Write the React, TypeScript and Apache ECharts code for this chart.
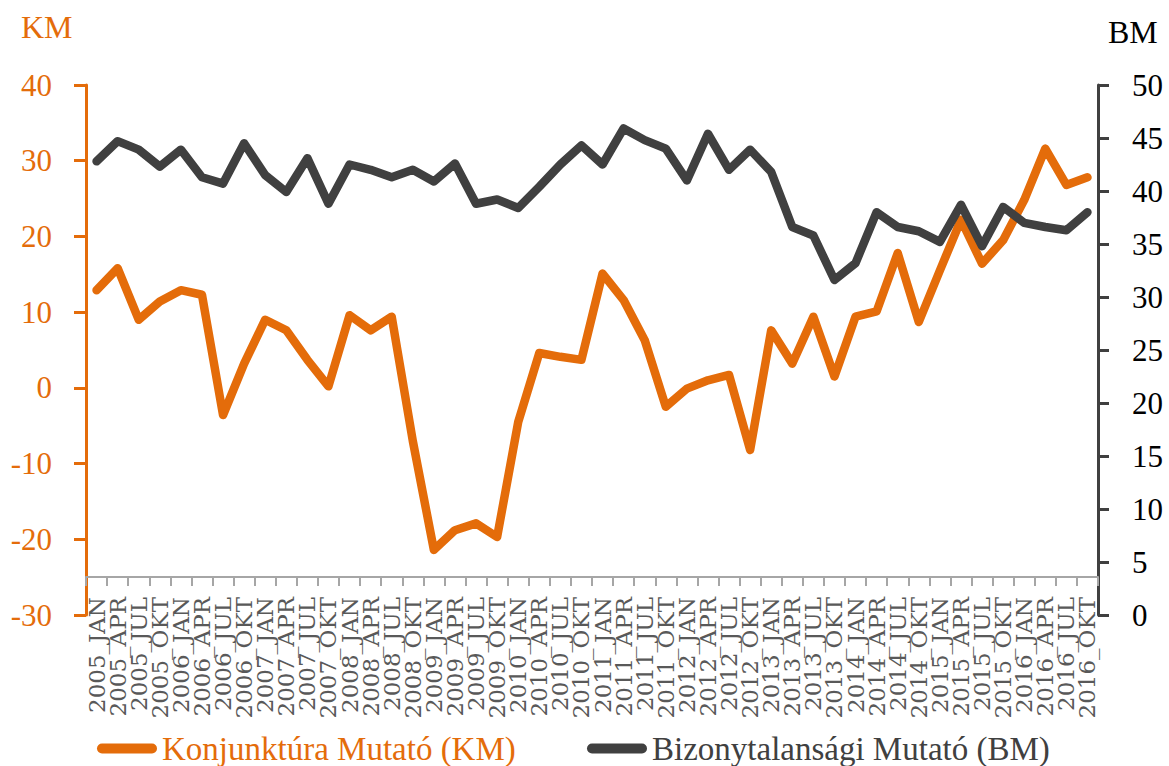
import React, { useEffect, useRef } from 'react';
import * as echarts from 'echarts';

const categories = [
  '2005_JAN', '2005_APR', '2005_JUL', '2005_OKT',
  '2006_JAN', '2006_APR', '2006_JUL', '2006_OKT',
  '2007_JAN', '2007_APR', '2007_JUL', '2007_OKT',
  '2008_JAN', '2008_APR', '2008_JUL', '2008_OKT',
  '2009_JAN', '2009_APR', '2009_JUL', '2009_OKT',
  '2010_JAN', '2010_APR', '2010_JUL', '2010_OKT',
  '2011_JAN', '2011_APR', '2011_JUL', '2011_OKT',
  '2012_JAN', '2012_APR', '2012_JUL', '2012_OKT',
  '2013_JAN', '2013_APR', '2013_JUL', '2013_OKT',
  '2014_JAN', '2014_APR', '2014_JUL', '2014_OKT',
  '2015_JAN', '2015_APR', '2015_JUL', '2015_OKT',
  '2016_JAN', '2016_APR', '2016_JUL', '2016_OKT',
];

// Konjunktúra Mutató (KM) – left axis
const kmValues = [
  12.9, 15.8, 9.0, 11.4, 12.9, 12.3, -3.6, 3.2, 9.0, 7.6, 3.7, 0.2,
  9.6, 7.6, 9.4, -7.0, -21.4, -18.8, -17.9, -19.7, -4.5, 4.6, 4.1, 3.7,
  15.1, 11.6, 6.3, -2.5, -0.1, 1.0, 1.7, -8.2, 7.6, 3.2, 9.4, 1.5,
  9.4, 10.1, 17.8, 8.7, 15.5, 22.2, 16.4, 19.5, 24.8, 31.6, 26.8, 27.8,
];

// Bizonytalansági Mutató (BM) – right axis
const bmValues = [
  42.8, 44.7, 43.9, 42.3, 43.9, 41.3, 40.7, 44.5, 41.5, 39.9, 43.1, 38.8,
  42.5, 42.0, 41.3, 42.0, 40.9, 42.6, 38.8, 39.2, 38.4, 40.4, 42.5, 44.3,
  42.5, 45.9, 44.8, 44.0, 41.0, 45.4, 42.0, 43.9, 41.8, 36.6, 35.8, 31.6,
  33.2, 38.0, 36.6, 36.2, 35.2, 38.7, 34.8, 38.5, 37.0, 36.6, 36.3, 38.0,
];

const leftTicks = { min: -30, max: 40, interval: 10 };
const rightTicks = { min: 0, max: 50, interval: 5 };

const KM_NAME = 'Konjunktúra Mutató (KM)';
const BM_NAME = 'Bizonytalansági Mutató (BM)';

const ORANGE = '#E46C0A';
const DARK = '#404040';
const SERIF = 'Liberation Serif';
const CAPSULE = 'path://M5,0 L55,0 A5,5 0 0 1 55,10 L5,10 A5,5 0 0 1 5,0 Z';

export default function App() {
  const ref = useRef<HTMLDivElement>(null);

  useEffect(() => {
    if (!ref.current) return;
    const chart = echarts.init(ref.current, null, { renderer: 'svg' });
    chart.setOption({
      animation: false,
      backgroundColor: '#ffffff',
      textStyle: { fontFamily: SERIF },
      grid: { left: 86, right: 71, top: 85, bottom: 151, containLabel: false },
      graphic: [
        {
          type: 'text',
          left: 21,
          top: 11,
          style: { text: 'KM', fill: ORANGE, fontSize: 32, fontFamily: SERIF },
        },
        {
          type: 'text',
          left: 1108,
          top: 16,
          style: { text: 'BM', fill: '#000000', fontSize: 32, fontFamily: SERIF },
        },
      ],
      legend: [
        {
          data: [{ name: KM_NAME, icon: CAPSULE }],
          left: 92,
          top: 727,
          itemWidth: 60,
          itemHeight: 10,
          textStyle: { color: ORANGE, fontSize: 33, fontFamily: SERIF, lineHeight: 33 },
        },
        {
          data: [{ name: BM_NAME, icon: CAPSULE }],
          left: 582,
          top: 727,
          itemWidth: 60,
          itemHeight: 10,
          textStyle: { color: DARK, fontSize: 33, fontFamily: SERIF, lineHeight: 33 },
        },
      ],
      xAxis: {
        type: 'category',
        data: categories,
        boundaryGap: true,
        offset: -38,
        axisLine: { show: true, onZero: false, lineStyle: { color: '#A6A6A6', width: 2 } },
        axisTick: { show: true, interval: 0, length: 9, lineStyle: { color: '#A6A6A6', width: 2 } },
        axisLabel: {
          interval: 0,
          rotate: 90,
          margin: 20,
          fontSize: 23,
          color: '#595959',
          fontFamily: 'DejaVu Serif',
        },
        splitLine: { show: false },
      },
      yAxis: [
        {
          type: 'value',
          position: 'left',
          min: leftTicks.min,
          max: leftTicks.max,
          interval: leftTicks.interval,
          axisLine: { show: true, onZero: false, lineStyle: { color: ORANGE, width: 3 } },
          axisTick: { show: true, length: 12, lineStyle: { color: ORANGE, width: 3 } },
          axisLabel: { color: ORANGE, fontSize: 31, margin: 34, fontFamily: SERIF },
          splitLine: { show: false },
        },
        {
          type: 'value',
          position: 'right',
          min: rightTicks.min,
          max: rightTicks.max,
          interval: rightTicks.interval,
          axisLine: { show: true, onZero: false, lineStyle: { color: DARK, width: 3 } },
          axisTick: { show: true, length: 11, lineStyle: { color: DARK, width: 3 } },
          axisLabel: { color: '#000000', fontSize: 31, margin: 34, fontFamily: SERIF },
          splitLine: { show: false },
        },
      ],
      series: [
        {
          name: KM_NAME,
          type: 'line',
          yAxisIndex: 0,
          data: kmValues,
          showSymbol: false,
          symbol: 'none',
          color: ORANGE,
          lineStyle: { color: ORANGE, width: 8.5, cap: 'round', join: 'round' },
        },
        {
          name: BM_NAME,
          type: 'line',
          yAxisIndex: 1,
          data: bmValues,
          showSymbol: false,
          symbol: 'none',
          color: DARK,
          lineStyle: { color: DARK, width: 8.5, cap: 'round', join: 'round' },
        },
      ],
    });
    return () => chart.dispose();
  }, []);

  return (
    <div
      ref={ref}
      style={{ position: 'absolute', left: 0, top: 0, width: 1169, height: 766 }}
    />
  );
}
